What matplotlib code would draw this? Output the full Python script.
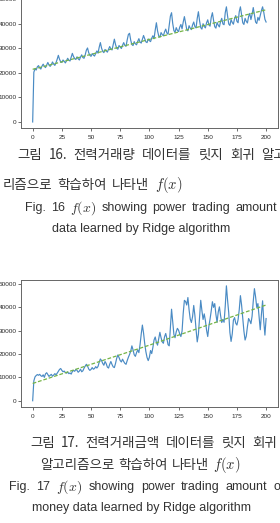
import matplotlib
matplotlib.use("Agg")
import matplotlib.pyplot as plt
from matplotlib import font_manager

plt.rcParams['mathtext.fontset'] = 'cm'

# power trading amount (top chart)
trade_volume = [
    0, 20300, 21700, 21200, 22500, 23000, 22100, 21600, 22800, 23600,
    22700, 22200, 23300, 24300, 23200, 22700, 23400, 24500, 23600, 23100,
    24200, 25600, 27200, 25600, 24600, 24300, 25300, 24800, 24100, 25000,
    26000, 25200, 24900, 26400, 28000, 26700, 25900, 25500, 26600, 25800,
    25300, 26500, 27400, 26300, 26000, 27400, 29300, 30200, 28300, 27200,
    26800, 27900, 27300, 26900, 28000, 29000, 28100, 30500, 32400, 30200,
    28800, 28300, 29600, 29000, 28500, 29700, 30800, 29800, 29400, 31700,
    33800, 31600, 30100, 29700, 31200, 30600, 30000, 31300, 32400, 31200,
    30900, 33500, 35700, 36200, 33400, 31600, 31200, 32800, 31900, 31500,
    32900, 34000, 32600, 32200, 33800, 35300, 34000, 32700, 32400, 33900,
    33200, 32800, 34200, 35200, 34000, 37500, 40500, 37200, 35100, 34600,
    36500, 35700, 35200, 36800, 37900, 36300, 35800, 39500, 43200, 44600,
    40200, 37300, 36600, 38500, 37400, 36900, 38700, 39800, 38000, 40800,
    43000, 40400, 37800, 37200, 39300, 38300, 37700, 39600, 40800, 38900,
    38400, 42300, 45000, 41300, 38500, 37900, 40100, 39000, 38400, 40500,
    41700, 39600, 39100, 42700, 44600, 41500, 38900, 38300, 40600, 39500,
    38800, 41000, 42300, 40000, 39700, 44600, 47000, 43200, 40000, 39400,
    41800, 40600, 39900, 42300, 43400, 41100, 40500, 45000, 47000, 43600,
    40500, 39800, 42300, 41100, 40400, 43000, 44300, 41800, 43900, 46700,
    43800, 40800, 40200, 42700, 41500, 43600, 45500, 47000, 44800, 41900,
    40800,
]

# power trading amount of money (bottom chart)
trade_money = [
    0, 8500, 10200, 10800, 11200, 10900, 11300, 10700, 10400, 11100,
    10000, 11500, 12000, 11200, 10400, 10900, 11300, 10500, 11000, 11600,
    11100, 11800, 12600, 13400, 13800, 13000, 12400, 12700, 12100, 11800,
    12300, 11600, 11900, 11400, 12500, 13000, 12600, 13400, 13000, 12200,
    12700, 13500, 12400, 12800, 13900, 14800, 15600, 14900, 13600, 13000,
    13400, 14200, 13500, 13800, 14600, 14000, 14700, 16500, 17900, 17200,
    16000, 15200, 16800, 15900, 14400, 14000, 15600, 16800, 15500, 14500,
    14200, 16000, 18200, 19600, 18500, 17200, 16600, 17800, 16800, 16000,
    15600, 17200, 18600, 19800, 21200, 23500, 21800, 19700, 19000, 20600,
    21800, 20600, 24000, 28500, 32400, 29000, 24500, 21000, 18500, 17200,
    18600, 21500, 20200, 22800, 26000, 27300, 25000, 23800, 26500, 29300,
    27000, 25200, 24600, 27400, 28800, 26600, 24000, 23500, 31500, 39200,
    33800, 28400, 27000, 29500, 31000, 30200, 28600, 27500, 29800, 37500,
    43000, 42500, 41000, 44200, 39000, 35000, 33500, 36000, 40800, 36500,
    30500, 25200, 28400, 35800, 43000, 38600, 34800, 37200, 34300, 30200,
    27500, 32000, 35000, 38500, 42400, 40000, 41600, 37000, 33600, 38000,
    40200, 36500, 33500, 34800, 33600, 40500, 49200, 43000, 37600, 29200,
    25400, 28600, 34500, 35600, 33200, 32400, 34700, 39000, 45000, 41000,
    35500, 29800, 26000, 27600, 31700, 35200, 34300, 33000, 36200, 42600,
    48000, 44500, 40000, 41600, 36000, 30400, 37000, 42800, 34000, 28100,
    35200,
]

# ridge fit lines (read at x = 0, 100, 200)
fit_x = [0, 100, 200]
fit_volume = [21500, 33700, 45800]
fit_money = [7400, 23800, 41000]

xticks = [0, 25, 50, 75, 100, 125, 150, 175, 200]
yticks = [0, 10000, 20000, 30000, 40000, 50000]

line_blue = '#4a8bc4'
line_green = '#74b446'
kr_font = ['Noto Sans CJK KR', 'DejaVu Sans']
en_font = ['Liberation Sans', 'DejaVu Sans']
text_color = '#333333'

# tick labels in the scan use a narrow face
installed = {f.name for f in font_manager.fontManager.ttflist}
if 'Liberation Sans Narrow' in installed:
    tick_font, tick_size = 'Liberation Sans Narrow', 5.6
else:
    tick_font, tick_size = 'Liberation Sans', 4.6

W, H = 280, 523
fig = plt.figure(figsize=(2.8, 5.23), dpi=100)


def draw_panel(ax, values, fit, ylim):
    ax.plot(range(len(values)), values, color=line_blue, lw=0.85)
    ax.plot(fit_x, fit, color=line_green, lw=0.9, ls='--', dashes=(3, 1.5))
    ax.set_xlim(-10, 210)
    ax.set_ylim(*ylim)
    ax.set_xticks(xticks)
    ax.set_yticks(yticks)
    ax.tick_params(length=2.2, width=0.6, colors='#555555',
                   labelsize=tick_size, labelcolor='#2a2a2a')
    ax.tick_params(axis='x', pad=3.2)
    ax.tick_params(axis='y', pad=0.8)
    for lab in ax.get_xticklabels() + ax.get_yticklabels():
        lab.set_family(tick_font)
    for sp in ax.spines.values():
        sp.set_color('#666666')
        sp.set_linewidth(0.7)


ax1 = fig.add_axes([0.075, 0.7553, 0.917, 0.2574])
draw_panel(ax1, trade_volume, fit_volume, (-2450, 52500))

ax2 = fig.add_axes([0.075, 0.2224, 0.917, 0.2422])
draw_panel(ax2, trade_money, fit_money, (-2550, 51700))


def put(px, py, s, family, size, ha='left'):
    return fig.text(px / W, 1 - py / H, s, family=family, fontsize=size,
                    ha=ha, va='center', color=text_color)


def justify(py, words, x0, x1, family=en_font, size=9.0, math_size=10.0):
    # spread words between x0 and x1 like the justified caption text
    renderer = fig.canvas.get_renderer()
    texts = []
    for w in words:
        if w.startswith('$'):
            texts.append(put(x0, py, w, en_font, math_size))
        else:
            texts.append(put(x0, py, w, family, size))
    widths = [t.get_window_extent(renderer).width for t in texts]
    gap = (x1 - x0 - sum(widths)) / (len(words) - 1)
    x = x0
    for t, w in zip(texts, widths):
        t.set_x(x / W)
        x += w + gap


KR = 9.7

# Figure 16 caption
justify(155, ['그림', '16.', '전력거래량', '데이터를', '릿지', '회귀', '알고'],
        17, 286, kr_font, KR)
justify(185, ['리즘으로', '학습하여', '나타낸', '$f(x)$'], 3, 182, kr_font, KR,
        10.5)
justify(208, ['Fig.', '16', '$f(x)$', 'showing', 'power', 'trading',
              'amount'], 25, 277)
put(141, 229, 'data learned by Ridge algorithm', en_font, 9.0, ha='center')

# Figure 17 caption
justify(443, ['그림', '17.', '전력거래금액', '데이터를', '릿지', '회귀'],
        30, 277, kr_font, KR)
justify(465, ['알고리즘으로', '학습하여', '나타낸', '$f(x)$'], 40, 240, kr_font,
        KR, 10.5)
justify(487, ['Fig.', '17', '$f(x)$', 'showing', 'power', 'trading',
              'amount', 'of'], 9, 284)
put(141, 508, 'money data learned by Ridge algorithm', en_font, 9.0,
    ha='center')

fig.savefig('out.png', dpi=100, facecolor='white')
